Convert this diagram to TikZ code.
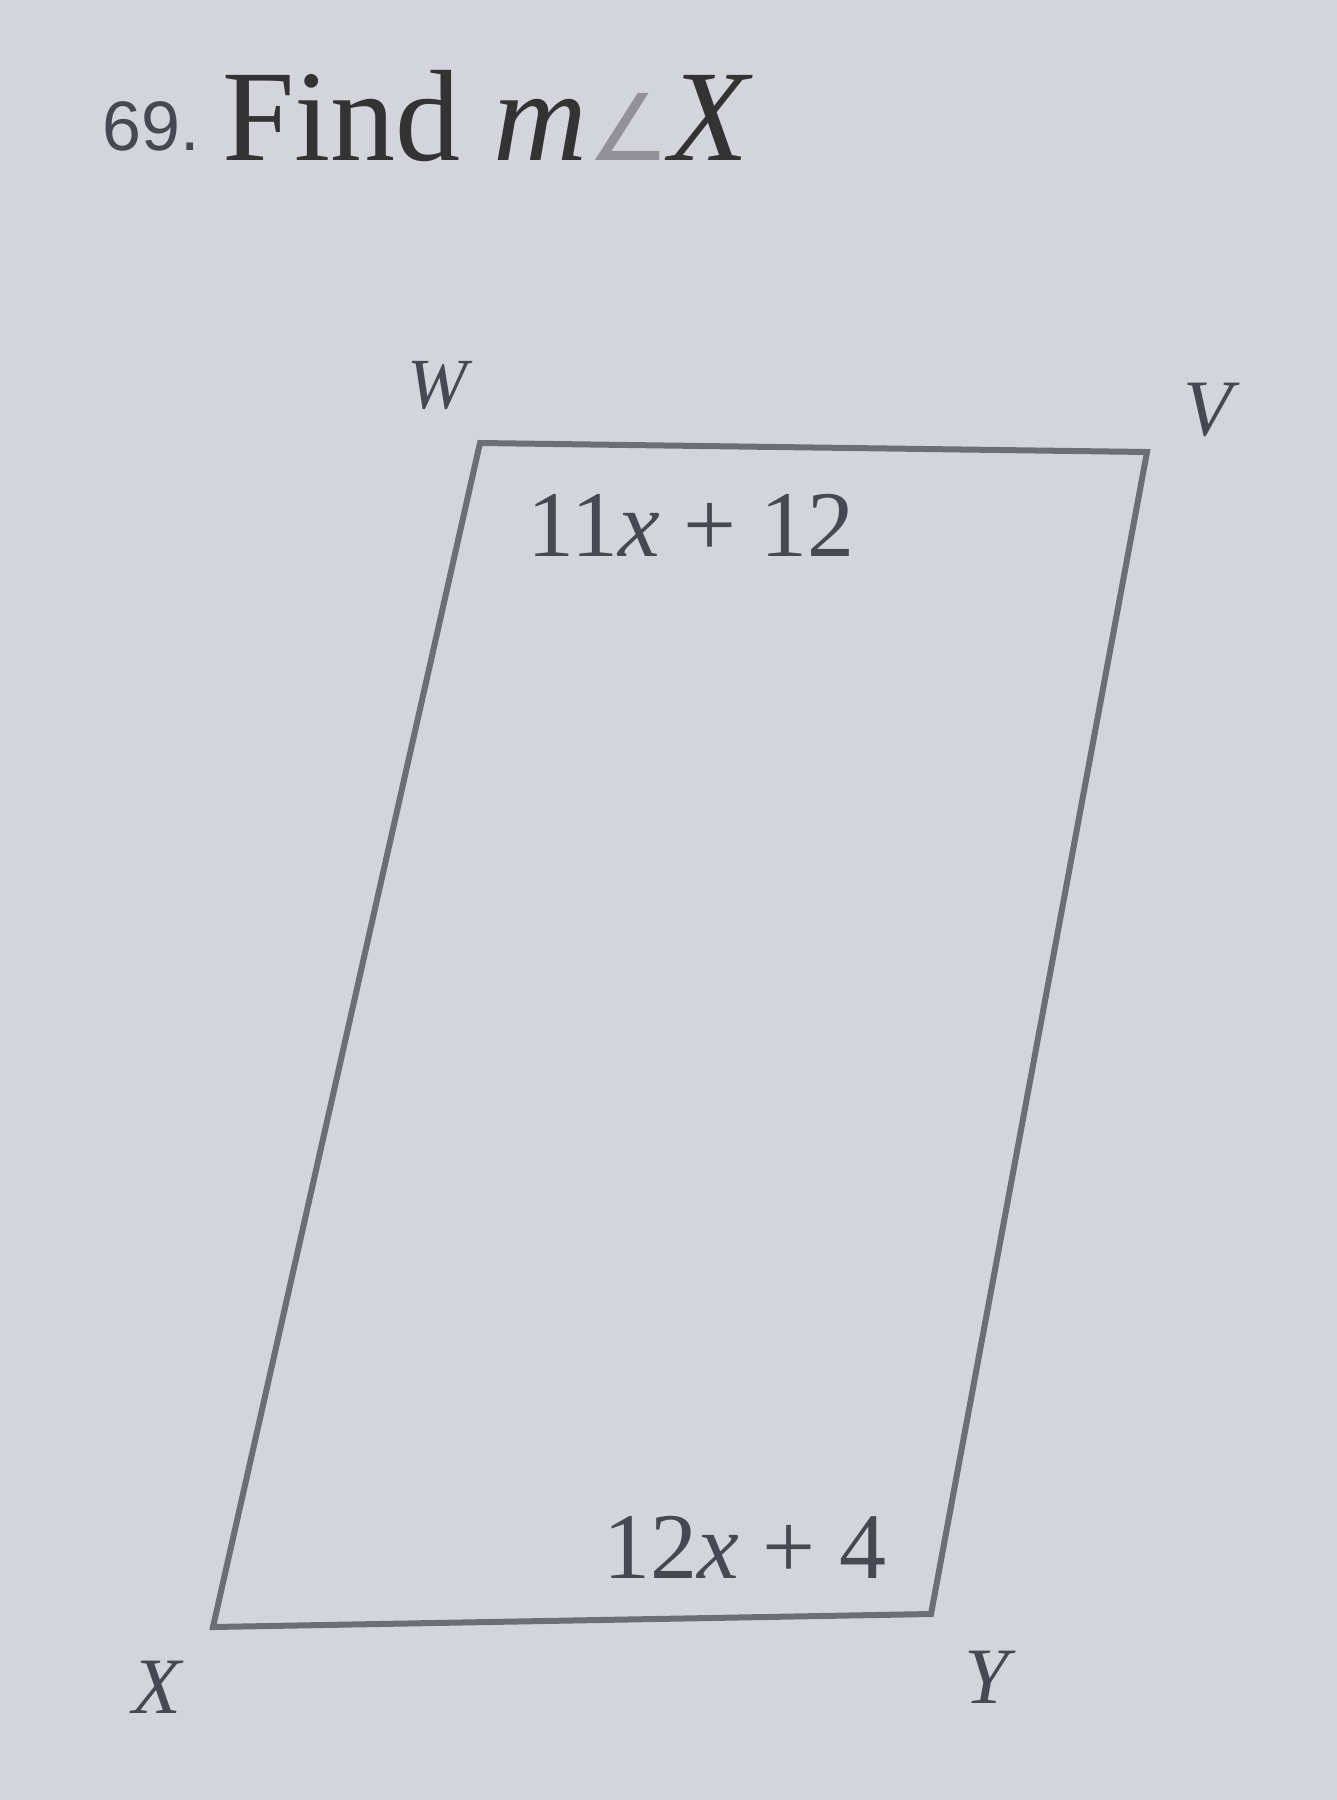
\documentclass[tikz,border=0pt]{standalone}
\usepackage{fontspec}
\setmainfont{Liberation Serif}
\newfontfamily\numfont{Liberation Sans}
\newfontfamily\symfont{DejaVu Sans}
\definecolor{paper}{RGB}{212,212,220}
\definecolor{ink}{RGB}{72,72,82}
\tikzset{
  lbl/.style={inner sep=0pt, text=ink},
  vtx/.style={lbl, font=\fontsize{80}{90}\selectfont\itshape},
  ang/.style={lbl, font=\fontsize{94}{104}\selectfont},
  side/.style={draw=ink!80, line width=6pt, line join=miter}
}
\begin{document}
\begin{tikzpicture}[x=1pt,y=-1pt]
  \fill[paper] (0,0) rectangle (1337,1800);
  \useasboundingbox (0,0) rectangle (1337,1800);
  % heading
  \node[lbl, anchor=base west, font=\fontsize{70}{80}\selectfont\numfont] (num) at (102,150) {69.};
  \node[lbl, anchor=base west, text=black!80, font=\fontsize{130}{150}\selectfont] (title) at (222,160)
    {Find \textit{m}{\color{ink!60}\symfont\fontsize{92}{100}\selectfont ∠}\textit{X}};
  % vertices
  \coordinate (W) at (480,443);
  \coordinate (V) at (1147,452);
  \coordinate (Y) at (931,1614);
  \coordinate (X) at (213,1627);
  \draw[side] (W) -- (V) -- (Y) -- (X) -- cycle;
  \node[vtx, font=\fontsize{72}{80}\selectfont\itshape] (w) at (437,385) {W};
  \node[vtx] (v) at (1208,410) {V};
  \node[vtx] (y) at (987,1677) {Y};
  \node[vtx] (x) at (157,1687) {X};
  % angle measures
  \node[ang] (top) at (691,525) {11\textit{x} + 12};
  \node[ang] (bot) at (745,1547) {12\textit{x} + 4};
\end{tikzpicture}
\end{document}
